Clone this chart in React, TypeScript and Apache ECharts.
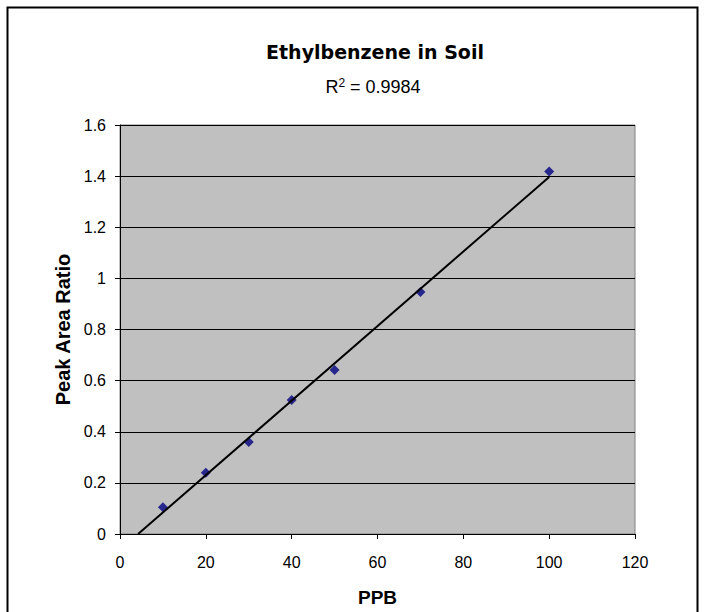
import React, { useEffect, useRef } from "react";
import * as echarts from "echarts";

const ppb = [10, 20, 30, 40, 50, 70, 100];
const peakAreaRatio = [0.105, 0.24, 0.36, 0.524, 0.642, 0.947, 1.418];
const titleText = "Ethylbenzene in Soil";
const rSquaredLabel = "0.9984";
const xAxisTitle = "PPB";
const yAxisTitle = "Peak Area Ratio";

function regression(xs: number[], ys: number[]) {
  const n = xs.length;
  const mx = xs.reduce((a, b) => a + b, 0) / n;
  const my = ys.reduce((a, b) => a + b, 0) / n;
  let sxy = 0;
  let sxx = 0;
  for (let i = 0; i < n; i++) {
    sxy += (xs[i] - mx) * (ys[i] - my);
    sxx += (xs[i] - mx) * (xs[i] - mx);
  }
  const slope = sxy / sxx;
  return { slope, intercept: my - slope * mx };
}

export default function App() {
  const ref = useRef<HTMLDivElement>(null);
  useEffect(() => {
    if (!ref.current) return;
    const chart = echarts.init(ref.current, undefined, { renderer: "svg" });
    const { slope, intercept } = regression(ppb, peakAreaRatio);
    const xStart = -intercept / slope;
    const xEnd = ppb[ppb.length - 1];
    const trend = [
      [xStart, 0],
      [xEnd, slope * xEnd + intercept],
    ];
    const sans = "'Liberation Sans', Arial, sans-serif";
    const wide = "'DejaVu Sans', Verdana, sans-serif";
    chart.setOption({
      animation: false,
      backgroundColor: "#ffffff",
      title: {
        text: titleText,
        left: 370,
        textAlign: "center",
        top: 37,
        textStyle: { fontFamily: wide, fontSize: 19, fontWeight: "bold", color: "#000" },
      },
      graphic: [
        {
          type: "rect",
          shape: { x: 7.5, y: 7.5, width: 690, height: 640 },
          style: { fill: "none", stroke: "#000", lineWidth: 2 },
          silent: true,
        },
        {
          type: "text",
          x: 373,
          y: 87,
          style: {
            text: "R{sup|2} = " + rSquaredLabel,
            textAlign: "center",
            textVerticalAlign: "middle",
            fontFamily: sans,
            fontSize: 18,
            fill: "#000",
            rich: {
              sup: { fontSize: 12, verticalAlign: "top", padding: [0, 0, 9, 0], fontFamily: sans, fill: "#000" },
            },
          },
        },
      ],
      grid: {
        left: 120,
        top: 125,
        width: 515,
        height: 413,
        show: true,
        backgroundColor: "#c0c0c0",
        borderColor: "#808080",
        borderWidth: 1,
      },
      xAxis: {
        type: "value",
        min: 0,
        max: 120,
        interval: 20,
        name: xAxisTitle,
        nameLocation: "middle",
        nameGap: 54,
        nameTextStyle: { fontFamily: sans, fontSize: 19, fontWeight: "bold", color: "#000" },
        axisLine: { onZero: false, lineStyle: { color: "#000", width: 1 } },
        axisTick: { show: true, length: 5, lineStyle: { color: "#000" } },
        axisLabel: { margin: 20, fontFamily: sans, fontSize: 16, color: "#000" },
        splitLine: { show: false },
      },
      yAxis: {
        type: "value",
        min: 0,
        max: 1.6,
        interval: 0.2,
        name: yAxisTitle,
        nameLocation: "middle",
        nameGap: 34,
        nameTextStyle: { fontFamily: sans, fontSize: 20, fontWeight: "bold", color: "#000" },
        axisLine: { show: true, lineStyle: { color: "#000", width: 1 } },
        axisTick: { show: true, length: 5, lineStyle: { color: "#000" } },
        axisLabel: { margin: 14, fontFamily: sans, fontSize: 16, color: "#000" },
        splitLine: { show: true, lineStyle: { color: "#000", width: 1 } },
      },
      series: [
        {
          type: "scatter",
          data: ppb.map((x, i) => [x, peakAreaRatio[i]]),
          symbol: "diamond",
          symbolSize: 10,
          itemStyle: { color: "#000080" },
          z: 2,
        },
        {
          type: "line",
          data: trend,
          showSymbol: false,
          symbol: "none",
          lineStyle: { color: "#000", width: 2 },
          z: 3,
        },
      ],
    });
    return () => chart.dispose();
  }, []);
  return (
    <div
      ref={ref}
      style={{ position: "absolute", left: 0, top: 0, width: 704, height: 612 }}
    />
  );
}
